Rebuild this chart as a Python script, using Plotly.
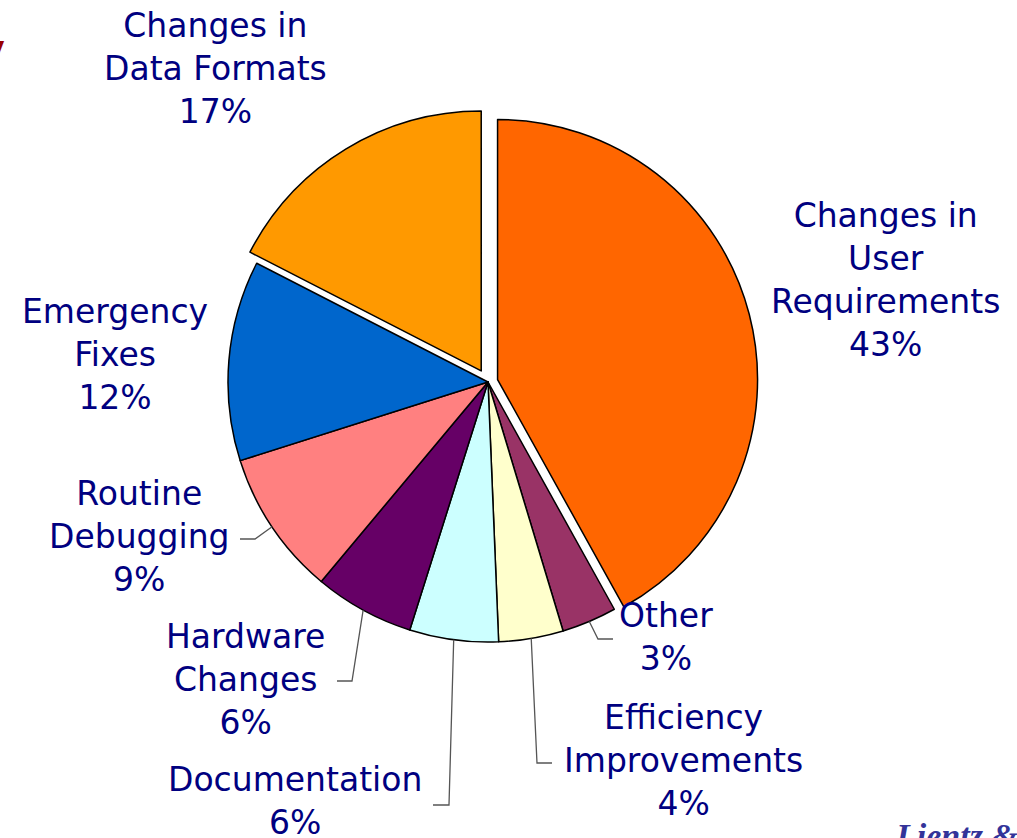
import math
import plotly.graph_objects as go

# ---- data ----
categories = [
    "Changes in<br>User<br>Requirements",
    "Other",
    "Efficiency<br>Improvements",
    "Documentation",
    "Hardware<br>Changes",
    "Routine<br>Debugging",
    "Emergency<br>Fixes",
    "Changes in<br>Data Formats",
]
slice_values = [41.8, 3.4, 4.0, 5.5, 6.2, 9.0, 12.4, 17.4]   # slice sizes as drawn
label_percents = [43, 3, 4, 6, 6, 9, 12, 17]                # percentages printed on the chart
colors = ["#FF6600", "#993366", "#FFFFCC", "#CCFFFF", "#660066", "#FF8080", "#0066CC", "#FF9900"]
pulls = [0.038, 0, 0, 0, 0, 0, 0, 0.05]

# ---- layout geometry (pixels) ----
W, H = 1017, 838
CX, CY, R = 488, 382, 260
half = R * (1 + max(pulls))

# label centres (px) and leader-line elbow/end points (px) per category
label_pos = [(885, 280), (666, 637), (683, 760), (295, 801),
             (245, 679), (139, 536), (115, 354), (215, 68)]
leaders = {
    1: [(598, 639), (613, 639)],
    2: [(537, 763), (552, 763)],
    3: [(449, 805), (433, 805)],
    4: [(352, 681), (337, 681)],
    5: [(255, 539), (240, 539)],
}

def px(x):
    return x / W

def py(y):
    return 1 - y / H

fig = go.Figure(go.Pie(
    labels=[c.replace("<br>", " ") for c in categories],
    values=slice_values,
    sort=False,
    direction="clockwise",
    rotation=0,
    pull=pulls,
    marker=dict(colors=colors, line=dict(color="black", width=1.5)),
    textinfo="none",
    hoverinfo="label+percent",
    domain=dict(x=[px(CX - half), px(CX + half)], y=[py(CY + half), py(CY - half)]),
    showlegend=False,
))

FONT = dict(family="DejaVu Sans", size=33, color="#000080")

annotations = []
for cat, pct, (lx, ly) in zip(categories, label_percents, label_pos):
    annotations.append(dict(
        x=px(lx), y=py(ly), xref="paper", yref="paper",
        text=f"{cat}<br>{pct}%", showarrow=False,
        xanchor="center", yanchor="middle", align="center", font=FONT,
    ))

# cut-off source note and title fragment of the original slide
annotations.append(dict(
    x=px(893), y=py(815), xref="paper", yref="paper", text="<b><i>Lientz &amp; Swanson</i></b>",
    showarrow=False, xanchor="left", yanchor="top",
    font=dict(family="Liberation Serif", size=34, color="#333399"),
))
annotations.append(dict(
    x=px(7), y=py(58), xref="paper", yref="paper", text="<b><i>/</i></b>",
    showarrow=False, xanchor="right", yanchor="middle",
    font=dict(family="Liberation Sans", size=44, color="#990000"),
))

# leader lines: start on the pie edge at each slice's mid-angle
total = sum(slice_values)
shapes = []
cum = 0
for i, v in enumerate(slice_values):
    mid = (cum + v / 2) / total * 2 * math.pi
    cum += v
    if i not in leaders:
        continue
    sx = CX + R * math.sin(mid)
    sy = CY - R * math.cos(mid)
    pts = [(sx, sy)] + leaders[i]
    path = "M " + " L ".join(f"{px(x):.5f},{py(y):.5f}" for x, y in pts)
    shapes.append(dict(type="path", path=path, xref="paper", yref="paper",
                       line=dict(color="#555555", width=1.3)))

fig.update_layout(
    width=W, height=H,
    margin=dict(l=0, r=0, t=0, b=0),
    paper_bgcolor="white", plot_bgcolor="white",
    annotations=annotations, shapes=shapes,
)

fig.write_html("out.html", config={"displayModeBar": False},
               post_script="document.body.style.margin='0';document.body.style.padding='0';")
